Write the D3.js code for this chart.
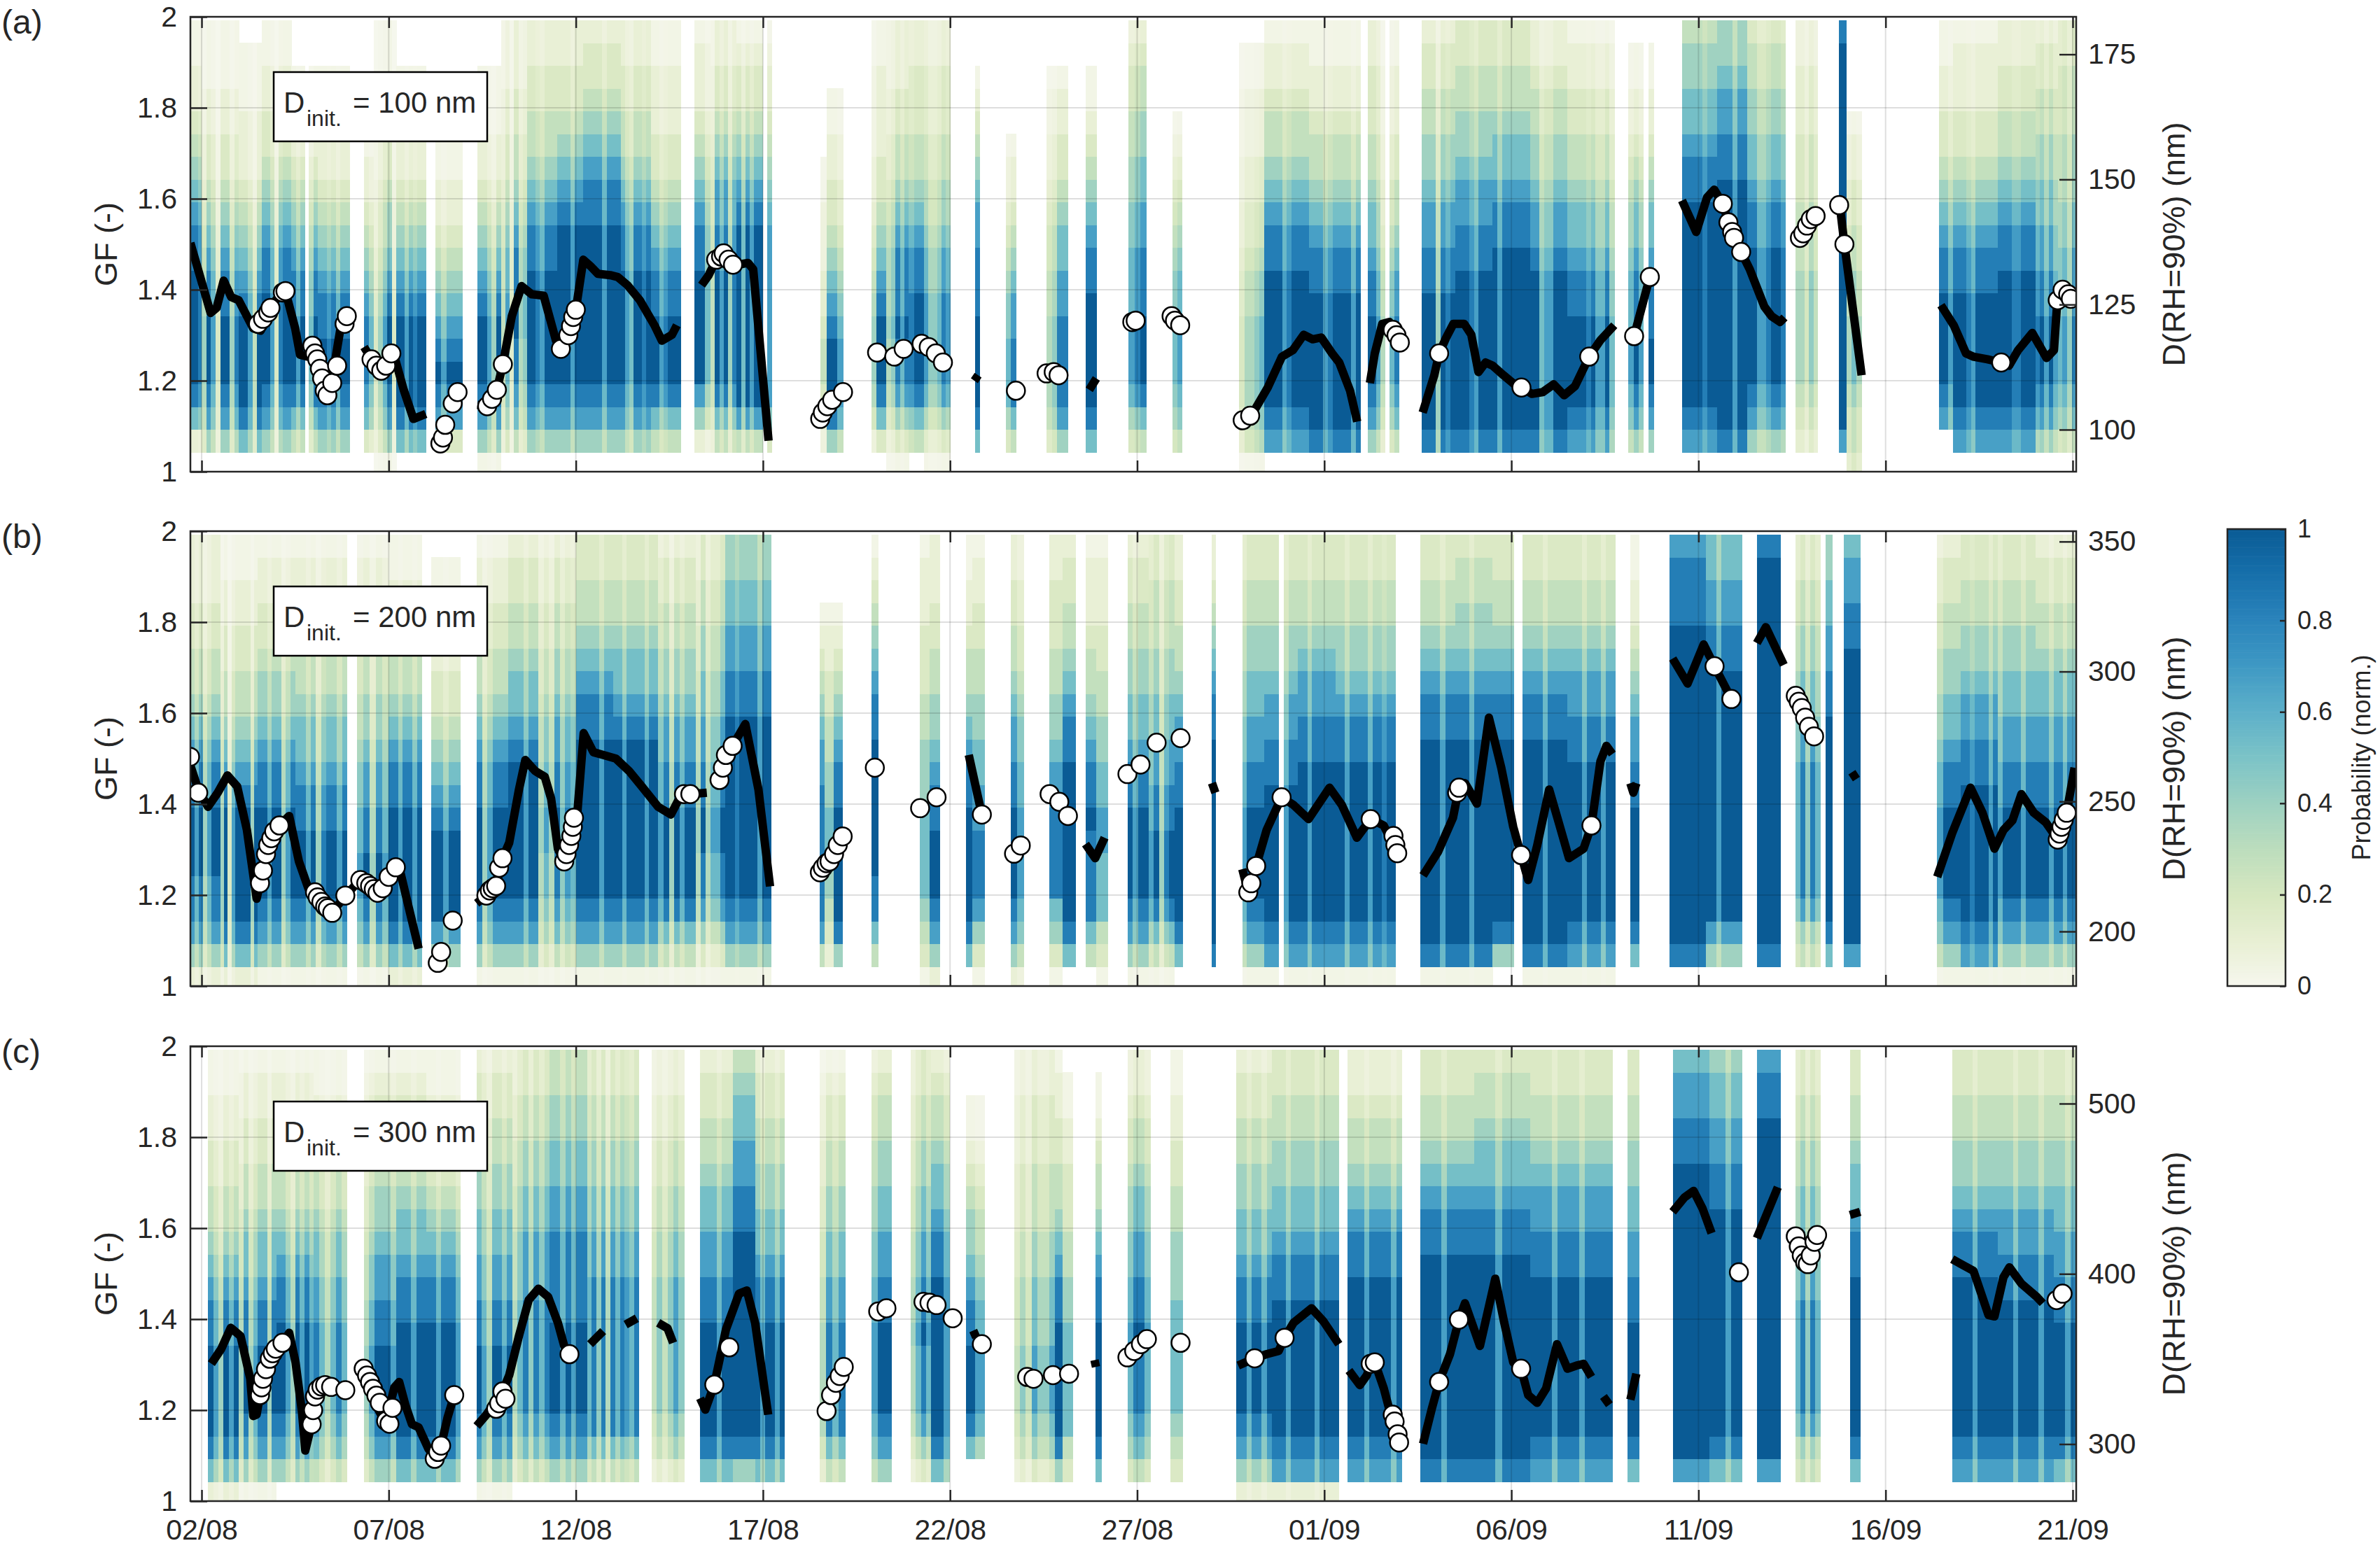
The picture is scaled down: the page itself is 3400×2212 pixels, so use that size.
<!DOCTYPE html>
<html>
<head>
<meta charset="utf-8">
<style>
  body { margin:0; background:#fff; }
  svg text { font-family:"Liberation Sans", Arial, sans-serif; fill:#262626; }
  rect.cell { shape-rendering:crispEdges; }
</style>
<script src="https://cdn.jsdelivr.net/npm/d3@7"></script>
</head>
<body>
<svg id="chart" width="3400" height="2212"></svg>
<script>
// days counted from 02/08 (0 = 02/08 00:00)
var tickLabels = ["02/08","07/08","12/08","17/08","22/08","27/08","01/09","06/09","11/09","16/09","21/09"];
var gfTicks = [1, 1.2, 1.4, 1.6, 1.8, 2];
var dInit = [100, 200, 300];
var rightTicks = [[100,125,150,175],[200,250,300,350],[300,400,500]];
var rightDomains = [[91.6,182.5],[179,354],[266.5,533.7]];
var cbTicks = [0, 0.2, 0.4, 0.6, 0.8, 1];
var cmapColors = ["#f6f7ee","#e8efd3","#d6e7c0","#bcddbd","#9dd1c1","#7cc3c7","#5db0c9","#3f99c4","#2a84bb","#166fab","#0a5b95"];

// heat blocks: [startDay, endDay, level per GF bin (0..9, bottom bin first), column strengths across the block (0 = no scan)]
var heatA = [
  [-0.3,0.0,"02689999988765432211","998"],[0.0,1.0,"05789998876543322111","59739958"],[1.0,1.6,"06899998765432221110","99749"],
  [1.6,2.4,"05789999887654332211","9973899"],[2.4,3.1,"04689998876543221100","979069"],[3.1,3.95,"05789988765432211100","9989799"],
  [4.34,4.6,"03678887654322111000","97"],[4.6,5.2,"15789998765543322111","35793"],[5.2,5.99,"06899998765432211100","9979899"],
  [6.25,6.97,"03789876543221100000","97999"],[7.37,8.0,"15789998765432211100","99759"],[8.0,8.7,"04678899887654433222","473956"],
  [8.7,9.5,"05789999988765443322","9987999"],[9.5,10.2,"05789999999876543322","999799"],[10.2,11.2,"05789999999887654332","99997999"],
  [11.2,12.0,"05789999988765443322","9769989"],[12.0,12.8,"04689998876543322211","9978999"],[13.16,13.6,"02579999988765432221","996"],
  [13.6,14.3,"04689999988776543322","497958"],[14.3,15.23,"04799999999876543321","96979907"],[16.53,16.7,"02345543322211000000","7"],
  [16.7,17.14,"05899987654332211000","997"],[17.9,18.3,"03689998765433222211","599"],[18.3,18.9,"13578898887654433222","56979"],
  [18.9,19.3,"04689999887654433322","899"],[19.3,20.0,"13578888776554433322","866798"],[20.67,20.8,"06899998887765432100","9"],
  [21.5,21.76,"04688877654322100000","79"],[22.58,23.15,"05788887766543322100","5699"],[23.63,23.91,"06899999887654321100","99"],
  [24.77,25.25,"04689998887766554432","789"],[25.95,26.2,"05789998876543210000","67"],[27.73,28.4,"15677776654433222110","46678"],
  [28.4,29.6,"07899999988765443221","9999789999"],[29.6,30.97,"08999999887654432211","99978999979"],[31.16,31.5,"05789998876654433322","997"],
  [31.5,32.12,"04678887765443322211","50790"],[32.6,33.5,"08999999887765544332","9995989"],[33.5,34.5,"08999999988776554433","99987999"],
  [34.5,35.5,"08999999998876654433","97999999"],[35.5,36.5,"08999999987765544322","99677999"],[36.5,37.75,"07899998876654433221","9999897796"],
  [38.13,38.8,"05789988876654322110","79709"],[39.56,40.5,"07899999999988766554","9999899"],[40.5,41.3,"08999999999998877655","999799"],
  [41.3,42.33,"05789999998876655443","99778998"],[42.6,43.19,"03456666655544433322","77586"],[43.76,43.95,"07999999999999999998","99"],
  [43.95,44.36,"34456665544332210000","797"],[46.43,46.8,"00789999887654332211","997"],[46.8,48.0,"07899999887654332221","9998799999"],
  [48.0,49.0,"07899999988765443322","99988999"],[49.0,49.6,"05789998877665544332","89797"],[49.6,50.1,"04678887776655544433","7869"]
];
var heatB = [
  [-0.31,0.5,"25788999887654433222","9795799"],[0.5,1.5,"26899999876544332211","5937999959"],[1.5,2.5,"15789999887655433221","99799579"],
  [2.5,3.89,"15789998876654433221","9979589979"],[4.15,5.0,"15789988776554433221","79597"],[5.0,5.88,"26899999887654432211","9979979"],
  [6.14,6.92,"05799998765433221110","99799"],[7.35,8.2,"15789999887654433221","957999"],[8.2,9.0,"15789999998766544332","999799"],
  [9.0,10.0,"14678899887765544332","5759687"],[10.0,11.0,"15789999999887654433","99999799"],[11.0,12.2,"15789999999876654433","9979999799"],
  [12.2,13.2,"14689999887765544332","7959799"],[13.2,14.0,"13578899887766554433","595779"],[14.0,15.22,"15789999999988776655","9989999799"],
  [16.52,16.65,"04788888877654321000","9"],[16.65,16.9,"02345566554433221000","9"],[16.9,17.13,"05899999887654321000","9"],
  [17.9,18.08,"04688999999887654321","9"],[19.2,19.45,"13456666555443332221","9"],[19.45,19.72,"25789998876554433222","9"],
  [20.42,20.6,"06899999887654432211","9"],[20.6,20.93,"13578887766554433221","9"],[21.63,21.97,"25789999887765443322","97"],
  [22.66,23.0,"13568888776554433322","9"],[23.0,23.36,"06899999998876544332","9"],[23.62,23.9,"04688889887654432221","9"],
  [23.9,24.22,"13466677665544332221","9"],[24.74,25.3,"15789999887665544332","9799"],[25.3,26.0,"14689998877665544433","79589"],
  [26.0,26.21,"06899999887765443322","9"],[27.0,27.1,"08999999999887654322","9"],[27.81,28.4,"15789999887766554433","79999"],
  [28.4,29.3,"17899999988776554433","9990799"],[29.3,30.3,"17899999998877654433","99799999"],[30.3,31.91,"17899999998876554433","9979999799899"],
  [32.56,33.5,"18999999999887654433","9999799"],[33.5,34.5,"18999999999887655443","99979999"],[34.5,35.2,"05899999999887654433","99990"],
  [35.3,36.5,"18999999999887654433","999979999"],[36.5,37.78,"17899999998877654433","9997999799"],[38.18,38.42,"06899999887765432211","9"],
  [39.23,40.2,"08999999999999998887","9999999"],[40.2,41.16,"05799999999999887766","9979999"],[41.56,42.2,"08999999999999999998","9999"],
  [42.6,43.25,"04578888887766554433","79697"],[43.4,43.57,"06899999999988776655","9"],[43.89,44.32,"07999999999999988776","99"],
  [46.38,47.0,"15789999887665544332","7999"],[47.0,48.0,"17899999988776554433","99899979"],[48.0,49.0,"15789999887766554433","79999799"],
  [49.0,50.1,"15789999887766544332","999799799"]
];
var heatC = [
  [0.17,1.0,"26899998876544332211","975979"],[1.0,2.0,"15789998876654433221","59579959"],[2.0,3.0,"05789999887654433221","99759797"],
  [3.0,3.89,"04678888776654433211","975797"],[4.33,5.2,"05789998877655443321","579997"],[5.2,6.0,"06899999887665443321","999799"],
  [6.0,6.92,"06899999887654332211","9979997"],[7.35,8.3,"15789998877665544332","9759979"],[8.3,9.3,"04678888877766554433","5796979"],
  [9.3,10.3,"05789999888877665544","9979799"],[10.3,11.68,"04688888887766554433","79695979879"],[12.02,12.89,"03567777776655443322","575797"],
  [13.32,14.2,"06899999887766544332","999799"],[14.2,14.8,"05899999999988776654","9999"],[14.8,15.57,"06899999887665544332","979979"],
  [16.52,17.2,"04688888776655443321","5979"],[17.9,18.43,"05789999887766554432","799"],[18.94,19.5,"03578889887766554433","5797"],
  [19.5,19.98,"06899999998876654432","997"],[20.42,20.93,"00689998876554321100","97"],[21.71,22.8,"03567776665544433322","5759779"],
  [22.8,23.0,"05899999887654433221","9"],[23.0,23.27,"03466666554433322110","9"],[23.88,24.05,"06899999887654432110","9"],
  [24.74,25.35,"04678889887766544322","7997"],[25.88,26.21,"03456666655544332211","9"],[27.65,28.6,"25789999887665544332","9979979"],
  [28.6,30.39,"27899999988766554433","99979999979999"],[30.63,32.07,"07899999998876544322","9997999979"],[32.56,34.0,"08999999999887654433","9999799999"],
  [34.0,35.5,"08999999999887665443","99979999"],[35.5,37.7,"07899999998877654433","999979999799999"],[38.1,38.42,"06899999887766554433","9"],
  [39.31,40.3,"07999999999999988776","9999999"],[40.3,41.16,"06899999999998877665","999799"],[41.56,42.2,"07999999999999999887","9999"],
  [42.6,43.25,"04578888877766554433","79697"],[44.05,44.32,"06899999998876654433","9"],[46.78,48.0,"07899999998876554433","999979999"],
  [48.0,49.5,"07899999988776554433","99979999799"],[49.5,50.1,"06899999887766554433","9979"]
];

// mean GF curves: segments of [day, GF]
var lineA = [
  [[-0.3,1.503],[0.24,1.349],[0.4,1.36],[0.59,1.42],[0.79,1.384],[0.99,1.377],[1.38,1.315],[1.58,1.31],[1.84,1.36],[2.05,1.385],[2.24,1.397],[2.5,1.315],[2.63,1.257],[2.83,1.253],[3.1,1.25],[3.35,1.21],[3.55,1.235],[3.7,1.31],[3.88,1.342]],
  [[4.34,1.274],[4.6,1.24],[4.8,1.225],[5.13,1.26],[5.4,1.18],[5.66,1.116],[5.99,1.127]],
  [[7.37,1.147],[7.63,1.144],[7.89,1.18],[8.05,1.236],[8.29,1.342],[8.55,1.408],[8.82,1.39],[9.14,1.387],[9.47,1.288],[9.6,1.27],[9.8,1.3],[10.0,1.356],[10.2,1.466],[10.39,1.452],[10.59,1.435],[10.92,1.432],[11.12,1.428],[11.38,1.41],[11.71,1.377],[12.1,1.322],[12.3,1.288],[12.57,1.301],[12.7,1.322]],
  [[13.36,1.41],[13.55,1.432],[13.75,1.466],[14.0,1.47],[14.34,1.455],[14.6,1.459],[14.74,1.445],[15.15,1.068]],
  [[20.65,1.2],[20.75,1.212]],
  [[23.72,1.18],[23.91,1.205]],
  [[28.02,1.123],[28.1,1.13],[28.49,1.185],[28.87,1.253],[29.16,1.267],[29.45,1.301],[29.69,1.291],[29.92,1.295],[30.21,1.26],[30.4,1.24],[30.69,1.178],[30.88,1.11]],
  [[31.22,1.195],[31.35,1.26],[31.55,1.325],[31.74,1.329],[31.83,1.312],[32.02,1.284]],
  [[32.63,1.13],[32.94,1.212],[33.07,1.26],[33.26,1.295],[33.45,1.325],[33.74,1.325],[33.93,1.301],[34.12,1.219],[34.31,1.24],[34.5,1.233],[34.79,1.212],[35.08,1.192],[35.27,1.185],[35.55,1.171],[35.84,1.175],[36.13,1.192],[36.41,1.168],[36.7,1.188],[37.08,1.253],[37.37,1.288],[37.75,1.322]],
  [[38.28,1.298],[38.7,1.428]],
  [[39.56,1.596],[39.94,1.527],[40.23,1.603],[40.42,1.62],[40.65,1.589],[40.8,1.548],[40.95,1.514],[41.14,1.483],[41.37,1.445],[41.76,1.363],[41.95,1.342],[42.18,1.329],[42.3,1.339]],
  [[43.8,1.569],[43.9,1.5],[44.36,1.212]],
  [[46.48,1.366],[46.82,1.322],[47.15,1.26],[47.34,1.253],[47.72,1.247],[48.09,1.24],[48.3,1.233],[48.54,1.267],[48.92,1.305],[49.3,1.25],[49.5,1.267],[49.59,1.377],[49.73,1.4],[49.9,1.39],[50.05,1.38]]
];
var lineB = [
  [[-0.31,1.487],[-0.09,1.432],[0.17,1.394],[0.43,1.425],[0.69,1.463],[0.95,1.439],[1.21,1.343],[1.47,1.192],[1.56,1.226],[1.64,1.254],[1.9,1.33],[2.08,1.353],[2.34,1.374],[2.6,1.274],[2.86,1.213],[3.03,1.206],[3.2,1.185],[3.37,1.171],[3.49,1.161],[3.84,1.199],[4.24,1.233],[4.5,1.226],[4.67,1.213],[4.84,1.199],[5.19,1.261],[5.28,1.261],[5.54,1.171],[5.8,1.082]],
  [[7.35,1.182],[7.61,1.199],[7.87,1.22],[8.04,1.281],[8.22,1.315],[8.48,1.432],[8.65,1.497],[8.91,1.473],[9.17,1.46],[9.34,1.412],[9.52,1.302],[9.69,1.274],[9.95,1.37],[10.03,1.37],[10.21,1.556],[10.47,1.514],[10.73,1.508],[11.07,1.5],[11.42,1.473],[11.76,1.439],[12.2,1.394],[12.54,1.377],[12.8,1.418],[13.06,1.422],[13.5,1.425]],
  [[14.19,1.528],[14.53,1.576],[14.88,1.432],[15.19,1.219]],
  [[17.92,1.492],[17.99,1.48]],
  [[20.5,1.508],[20.85,1.377]],
  [[23.62,1.312],[23.88,1.281],[24.13,1.326]],
  [[27.0,1.446],[27.09,1.425]],
  [[27.81,1.257],[27.97,1.206],[28.05,1.226],[28.18,1.264],[28.46,1.343],[28.86,1.415],[29.18,1.398],[29.58,1.367],[30.14,1.436],[30.47,1.398],[30.87,1.326],[31.24,1.367],[31.59,1.353],[31.95,1.292]],
  [[32.64,1.243],[33.04,1.295],[33.44,1.37],[33.6,1.436],[33.76,1.446],[34.08,1.401],[34.4,1.59],[34.73,1.48],[35.05,1.35],[35.26,1.288],[35.45,1.233],[35.69,1.309],[36.01,1.432],[36.25,1.364],[36.54,1.281],[36.93,1.302],[37.14,1.353],[37.38,1.494],[37.54,1.528],[37.7,1.51]],
  [[38.18,1.446],[38.26,1.425],[38.34,1.446]],
  [[39.31,1.72],[39.71,1.665],[40.14,1.751],[40.43,1.703],[40.88,1.631]],
  [[41.56,1.754],[41.8,1.789],[42.28,1.706]],
  [[44.1,1.47],[44.22,1.455]],
  [[46.38,1.24],[46.78,1.336],[47.27,1.436],[47.59,1.381],[47.91,1.302],[48.15,1.343],[48.39,1.364],[48.63,1.422],[48.96,1.381],[49.28,1.36],[49.6,1.322],[49.84,1.381],[50.05,1.48]]
];
var lineC = [
  [[0.26,1.302],[0.52,1.334],[0.78,1.381],[1.04,1.363],[1.3,1.269],[1.38,1.187],[1.47,1.19],[1.56,1.233],[1.64,1.269],[1.82,1.313],[2.16,1.348],[2.34,1.37],[2.51,1.305],[2.68,1.197],[2.77,1.111],[2.94,1.169],[3.05,1.23],[3.2,1.255],[3.37,1.263],[3.6,1.255],[3.84,1.244]],
  [[4.33,1.291],[4.5,1.26],[4.67,1.211],[4.85,1.18],[5.0,1.2],[5.15,1.25],[5.28,1.262],[5.45,1.21],[5.62,1.169],[5.8,1.162],[6.06,1.115],[6.23,1.097],[6.4,1.122],[6.57,1.183],[6.75,1.233]],
  [[7.35,1.165],[7.61,1.19],[8.04,1.241],[8.22,1.277],[8.48,1.363],[8.74,1.442],[9.0,1.467],[9.26,1.449],[9.52,1.392],[9.69,1.341],[9.83,1.323]],
  [[10.38,1.345],[10.73,1.374]],
  [[11.33,1.388],[11.63,1.402]],
  [[12.2,1.392],[12.45,1.38],[12.6,1.348]],
  [[13.32,1.226],[13.46,1.201],[13.7,1.256],[14.01,1.377],[14.36,1.456],[14.57,1.463],[14.79,1.392],[15.14,1.19]],
  [[16.7,1.198],[16.82,1.233]],
  [[20.07,1.402],[20.2,1.385]],
  [[20.62,1.375],[20.7,1.36]],
  [[23.86,1.31],[23.9,1.295]],
  [[27.7,1.298],[28.14,1.314],[28.46,1.323],[28.78,1.33],[28.94,1.359],[29.18,1.392],[29.66,1.424],[29.98,1.395],[30.39,1.345]],
  [[30.66,1.287],[30.95,1.255],[31.14,1.277],[31.24,1.302],[31.35,1.305],[31.59,1.248],[31.75,1.198],[31.83,1.19],[32.0,1.129]],
  [[32.64,1.126],[32.88,1.205],[33.07,1.262],[33.36,1.323],[33.6,1.399],[33.76,1.435],[34.16,1.341],[34.57,1.489],[34.81,1.392],[35.05,1.305],[35.26,1.291],[35.45,1.233],[35.69,1.216],[35.93,1.248],[36.22,1.345],[36.5,1.291],[36.74,1.298],[36.93,1.302],[37.14,1.273]],
  [[37.46,1.23],[37.62,1.212]],
  [[38.18,1.223],[38.34,1.28]],
  [[39.31,1.636],[39.63,1.668],[39.87,1.682],[40.11,1.643],[40.35,1.589]],
  [[41.56,1.578],[42.12,1.69]],
  [[44.05,1.629],[44.32,1.636]],
  [[46.78,1.532],[47.11,1.517],[47.35,1.506],[47.75,1.409],[47.91,1.406],[48.15,1.492],[48.31,1.514],[48.63,1.478],[49.04,1.449],[49.2,1.435]]
];

// measured GF points: [day, GF]
var circA = [[1.51,1.325],[1.64,1.336],[1.78,1.35],[1.84,1.36],[2.17,1.394],[2.24,1.397],[2.96,1.277],[3.03,1.26],[3.09,1.247],[3.16,1.226],[3.22,1.205],[3.29,1.178],[3.36,1.168],[3.49,1.195],[3.62,1.233],[3.82,1.325],[3.88,1.342],
  [4.54,1.247],[4.67,1.233],[4.8,1.222],[4.93,1.233],[5.07,1.26],[6.38,1.062],[6.45,1.075],[6.51,1.103],[6.71,1.15],[6.84,1.175],
  [7.63,1.144],[7.76,1.16],[7.89,1.18],[8.05,1.236],[9.6,1.27],[9.8,1.3],[9.87,1.32],[9.93,1.34],[10.0,1.356],
  [13.75,1.466],[13.88,1.473],[13.95,1.48],[14.08,1.466],[14.2,1.455],[16.53,1.116],[16.6,1.13],[16.72,1.144],[16.85,1.158],[17.14,1.175],
  [18.05,1.262],[18.51,1.253],[18.76,1.27],[19.24,1.281],[19.43,1.274],[19.62,1.26],[19.81,1.24],
  [21.76,1.178],[22.58,1.216],[22.77,1.219],[22.9,1.212],[24.87,1.329],[24.96,1.332],[25.92,1.342],[26.01,1.332],[26.15,1.322],
  [27.82,1.113],[28.02,1.123],[31.83,1.312],[31.93,1.3],[32.02,1.284],[33.07,1.26],[35.27,1.185],[37.08,1.253],[38.28,1.298],[38.7,1.428],
  [40.65,1.589],[40.8,1.548],[40.9,1.527],[40.95,1.514],[41.14,1.483],[42.71,1.514],[42.8,1.524],[42.9,1.541],[43.0,1.555],[43.13,1.562],
  [43.76,1.586],[43.9,1.5],[48.09,1.24],[49.6,1.377],[49.73,1.4],[49.88,1.39],[49.95,1.38]];
var circB = [[-0.31,1.504],[-0.09,1.425],[1.56,1.226],[1.64,1.254],[1.72,1.29],[1.78,1.31],[1.86,1.325],[1.94,1.34],[2.08,1.353],
  [3.03,1.206],[3.1,1.195],[3.2,1.185],[3.3,1.175],[3.37,1.171],[3.49,1.161],[3.84,1.199],
  [4.24,1.233],[4.4,1.226],[4.5,1.22],[4.6,1.213],[4.7,1.205],[4.84,1.215],[5.0,1.24],[5.19,1.261],[6.31,1.051],[6.4,1.075],[6.71,1.144],
  [7.61,1.199],[7.7,1.21],[7.78,1.215],[7.87,1.22],[7.95,1.26],[8.04,1.281],[9.69,1.274],[9.75,1.29],[9.82,1.31],[9.88,1.33],[9.92,1.35],[9.95,1.37],
  [12.89,1.422],[13.06,1.422],[13.84,1.453],[13.93,1.48],[14.01,1.508],[14.19,1.528],
  [16.52,1.25],[16.6,1.26],[16.7,1.27],[16.78,1.274],[16.9,1.29],[17.0,1.31],[17.13,1.329],
  [17.99,1.48],[19.2,1.391],[19.64,1.415],[20.85,1.377],[21.71,1.291],[21.89,1.309],[22.66,1.422],[22.92,1.405],[23.15,1.374],
  [24.74,1.466],[25.09,1.487],[25.52,1.535],[26.16,1.545],[27.97,1.206],[28.05,1.226],[28.18,1.264],[28.86,1.415],[31.24,1.367],[31.85,1.33],[31.9,1.31],[31.95,1.292],
  [33.55,1.425],[33.6,1.436],[35.26,1.288],[37.14,1.353],[40.43,1.703],[40.88,1.631],
  [42.6,1.638],[42.68,1.625],[42.76,1.611],[42.85,1.59],[42.95,1.57],[43.09,1.549],[49.6,1.322],[49.65,1.335],[49.7,1.35],[49.76,1.365],[49.84,1.381]];
var circC = [[1.56,1.233],[1.6,1.25],[1.64,1.269],[1.72,1.29],[1.82,1.313],[1.9,1.325],[1.98,1.335],[2.16,1.348],
  [2.94,1.169],[2.98,1.2],[3.03,1.23],[3.1,1.245],[3.2,1.252],[3.3,1.255],[3.46,1.251],[3.84,1.244],
  [4.33,1.291],[4.42,1.276],[4.5,1.262],[4.58,1.247],[4.67,1.232],[4.76,1.216],[4.93,1.176],[5.02,1.17],[5.1,1.205],
  [6.23,1.093],[6.32,1.108],[6.4,1.122],[6.75,1.233],[7.87,1.203],[7.95,1.215],[8.04,1.241],[8.12,1.225],[9.83,1.323],
  [13.7,1.256],[14.1,1.338],[16.7,1.198],[16.82,1.233],[16.95,1.26],[17.05,1.275],[17.16,1.295],[18.08,1.417],[18.3,1.424],
  [19.29,1.438],[19.45,1.436],[19.64,1.431],[20.07,1.402],[20.85,1.345],[22.06,1.273],[22.23,1.269],[22.75,1.277],[23.18,1.28],
  [24.74,1.316],[24.92,1.33],[25.1,1.345],[25.26,1.356],[26.16,1.348],[28.14,1.314],[28.94,1.359],
  [31.24,1.302],[31.35,1.305],[31.83,1.19],[31.88,1.175],[31.96,1.147],[32.0,1.129],[33.07,1.262],[33.6,1.399],[35.26,1.291],
  [41.08,1.503],[42.6,1.582],[42.68,1.56],[42.76,1.54],[42.85,1.525],[42.92,1.521],[43.0,1.54],[43.1,1.57],[43.17,1.585],
  [49.57,1.442],[49.73,1.456]];

var heats = [heatA, heatB, heatC], lines = [lineA, lineB, lineC], circs = [circA, circB, circC];
var panelNames = ["(a)", "(b)", "(c)"];

var t0 = Date.UTC(2016, 7, 2);
function day(d) { return new Date(t0 + d * 864e5); }
var parseTick = d3.utcParse("%d/%m/%Y");
var tickDates = tickLabels.map(function (s) { return parseTick(s + "/2016"); });

var svg = d3.select("#chart");
var L = 272, R = 2966, H = 650;
var tops = [24, 759, 1495];
var binBase = 0.993, binW = 0.05;

var x = d3.scaleUtc().domain([day(-0.3), day(50.094)]).range([L, R]);
var color = d3.scaleLinear()
    .domain(d3.range(cmapColors.length).map(function (i) { return i / (cmapColors.length - 1); }))
    .range(cmapColors);
// the 0..9 levels are decoded on a power curve (levels are coarse at the light end)
var level = d3.scalePow().exponent(1.6).domain([0, 1]).range([0, 1]);

var defs = svg.append("defs");

tops.forEach(function (top, pi) {
    var y = d3.scaleLinear().domain([1, 2]).range([top + H, top]);
    var yR = d3.scaleLinear().domain(rightDomains[pi]).range([top + H, top]);
    var clipId = "clip" + pi;
    defs.append("clipPath").attr("id", clipId)
        .append("rect").attr("x", L).attr("y", top).attr("width", R - L).attr("height", H);

    var g = svg.append("g");
    var plot = g.append("g").attr("clip-path", "url(#" + clipId + ")");

    // heat cells: each block split into its columns, each column scaled by its strength
    var cells = [];
    heats[pi].forEach(function (b) {
        var cols = b[3] || "9", n = cols.length, w = (b[1] - b[0]) / n;
        for (var j = 0; j < n; j++) {
            var s = +cols[j] / 9;
            if (s === 0) continue;
            for (var k = 0; k < b[2].length; k++) {
                var v = +b[2][k];
                if (v > 0) cells.push({ d0: b[0] + j * w, d1: b[0] + (j + 1) * w,
                    lo: binBase + k * binW, hi: Math.min(2, binBase + (k + 1) * binW), p: level(v / 9 * s) });
            }
        }
    });
    plot.selectAll("rect.cell").data(cells).enter().append("rect").attr("class", "cell")
        .attr("x", function (c) { return x(day(c.d0)); })
        .attr("width", function (c) { return x(day(c.d1)) - x(day(c.d0)) + 0.5; })
        .attr("y", function (c) { return y(c.hi); })
        .attr("height", function (c) { return y(c.lo) - y(c.hi) + 0.5; })
        .attr("fill", function (c) { return color(c.p); });

    // grid
    plot.selectAll("line.gy").data(gfTicks.slice(1, -1)).enter().append("line")
        .attr("x1", L).attr("x2", R).attr("y1", y).attr("y2", y)
        .attr("stroke", "#000").attr("stroke-opacity", 0.13).attr("stroke-width", 2);
    plot.selectAll("line.gx").data(tickDates).enter().append("line")
        .attr("x1", x).attr("x2", x).attr("y1", top).attr("y2", top + H)
        .attr("stroke", "#000").attr("stroke-opacity", 0.13).attr("stroke-width", 2);

    // legend box
    var lg = g.append("g");
    lg.append("rect").attr("x", 391).attr("y", top + 79).attr("width", 305).attr("height", 99)
        .attr("fill", "#fff").attr("stroke", "#000").attr("stroke-width", 2.5);
    lg.append("text").attr("x", 405).attr("y", top + 137).attr("font-size", 42).text("D");
    lg.append("text").attr("x", 438).attr("y", top + 156).attr("font-size", 32).text("init.");
    lg.append("text").attr("x", 504).attr("y", top + 137).attr("font-size", 42).text("= " + dInit[pi] + " nm");

    // mean curve
    var line = d3.line().x(function (p) { return x(day(p[0])); }).y(function (p) { return y(p[1]); });
    plot.selectAll("path.gf").data(lines[pi]).enter().append("path")
        .attr("d", line).attr("fill", "none").attr("stroke", "#000")
        .attr("stroke-width", 12).attr("stroke-linejoin", "round");

    // measured points
    plot.selectAll("circle").data(circs[pi]).enter().append("circle")
        .attr("cx", function (p) { return x(day(p[0])); })
        .attr("cy", function (p) { return y(p[1]); })
        .attr("r", 13).attr("fill", "#fff").attr("stroke", "#000").attr("stroke-width", 2.5);

    // axes
    var axB = d3.axisBottom(x).tickValues(tickDates).tickSize(-16).tickSizeOuter(0).tickPadding(25)
        .tickFormat(pi === 2 ? d3.utcFormat("%d/%m") : "");
    var axT = d3.axisTop(x).tickValues(tickDates).tickSize(-16).tickSizeOuter(0).tickFormat("");
    var axL = d3.axisLeft(y).tickValues(gfTicks).tickSize(-24).tickSizeOuter(0).tickPadding(19).tickFormat(d3.format(""));
    var axR = d3.axisRight(yR).tickValues(rightTicks[pi]).tickSize(-24).tickSizeOuter(0).tickPadding(17);
    var gb = g.append("g").attr("transform", "translate(0," + (top + H) + ")").call(axB);
    var gt = g.append("g").attr("transform", "translate(0," + top + ")").call(axT);
    var gl = g.append("g").attr("transform", "translate(" + L + ",0)").call(axL);
    var gr = g.append("g").attr("transform", "translate(" + R + ",0)").call(axR);
    [gb, gt, gl, gr].forEach(function (a) {
        a.select(".domain").remove();
        a.selectAll(".tick line").attr("stroke", "#262626").attr("stroke-width", 2.5);
        a.selectAll(".tick text").attr("font-size", 41).attr("font-family", "Liberation Sans, Arial, sans-serif").attr("fill", "#262626");
    });
    gb.selectAll(".tick text").attr("dy", "0.72em");

    g.append("rect").attr("x", L).attr("y", top).attr("width", R - L).attr("height", H)
        .attr("fill", "none").attr("stroke", "#262626").attr("stroke-width", 2.5);

    // labels
    g.append("text").attr("transform", "translate(151," + (top + H / 2) + ") rotate(-90)")
        .attr("text-anchor", "middle").attr("dy", "0.35em").attr("font-size", 45).text("GF (-)");
    g.append("text").attr("transform", "translate(3105," + (top + H / 2) + ") rotate(-90)")
        .attr("text-anchor", "middle").attr("dy", "0.35em").attr("font-size", 45).text("D(RH=90%) (nm)");
    g.append("text").attr("x", 2).attr("y", top + 24).attr("font-size", 48).text(panelNames[pi]);
});

// colorbar
var cbX = 3182, cbW = 83, cbTop = 756, cbBot = 1409;
var cy = d3.scaleLinear().domain([0, 1]).range([cbBot, cbTop]);
var steps = d3.range(0, 1, 0.005);
svg.append("g").selectAll("rect").data(steps).enter().append("rect")
    .attr("x", cbX).attr("width", cbW)
    .attr("y", function (s) { return cy(s + 0.005); })
    .attr("height", function (s) { return cy(s) - cy(s + 0.005) + 0.6; })
    .attr("fill", function (s) { return color(s + 0.0025); });
var cbAx = svg.append("g").attr("transform", "translate(" + (cbX + cbW) + ",0)")
    .call(d3.axisRight(cy).tickValues(cbTicks).tickSize(-8).tickSizeOuter(0).tickPadding(17).tickFormat(d3.format("")));
cbAx.select(".domain").remove();
cbAx.selectAll(".tick line").attr("stroke", "#262626").attr("stroke-width", 2.5);
cbAx.selectAll(".tick text").attr("font-size", 36).attr("font-family", "Liberation Sans, Arial, sans-serif").attr("fill", "#262626");
svg.append("rect").attr("x", cbX).attr("y", cbTop).attr("width", cbW).attr("height", cbBot - cbTop)
    .attr("fill", "none").attr("stroke", "#262626").attr("stroke-width", 2.5);
svg.append("text").attr("transform", "translate(3373," + ((cbTop + cbBot) / 2) + ") rotate(-90)")
    .attr("text-anchor", "middle").attr("dy", "0.35em").attr("font-size", 36).text("Probability (norm.)");
</script>
</body>
</html>
